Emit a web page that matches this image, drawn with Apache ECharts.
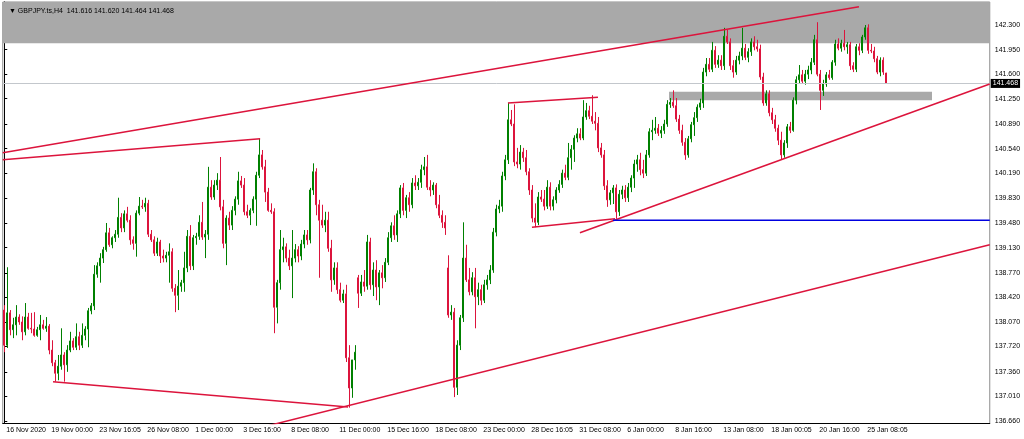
<!DOCTYPE html>
<html><head><meta charset="utf-8">
<script src="https://cdn.jsdelivr.net/npm/echarts@6/dist/echarts.min.js"></script>
<style>html,body{margin:0;padding:0;background:#fff}#c{width:1024px;height:439px}</style>
</head><body><div id="c"></div>
<script>
const chartTitle = '\u25BC GBPJPY.ts,H4  141.616 141.620 141.464 141.468';

const opens = [
138.24,137.74,138.20,137.96,138.03,138.14,138.07,137.93,138.14,137.98,
137.97,137.88,137.96,138.03,137.98,138.01,137.67,137.49,137.34,137.44,
137.60,137.46,137.67,137.80,137.71,137.86,137.74,137.88,137.97,138.23,
138.30,138.75,138.87,138.98,139.10,139.34,139.17,139.27,139.32,139.56,
139.41,139.61,139.52,139.24,139.19,139.62,139.72,139.71,139.76,139.32,
139.24,139.05,139.21,139.01,138.98,139.02,139.07,138.55,138.45,138.58,
138.63,138.84,139.29,138.87,139.27,139.29,139.49,139.28,139.32,139.99,
139.85,140.02,140.09,139.71,139.19,139.55,139.45,139.66,139.82,140.08,
140.02,139.64,139.59,139.66,139.82,140.16,140.45,140.28,139.92,139.66,
139.64,138.28,138.63,139.10,139.14,138.98,138.87,138.98,139.10,139.01,
139.18,139.31,139.24,139.95,140.21,139.74,139.52,139.45,139.52,139.12,
138.67,138.84,138.53,138.38,138.47,137.56,137.13,137.53,138.70,138.48,
138.64,138.58,139.21,138.60,138.81,138.57,138.77,138.70,138.92,139.27,
139.44,139.31,139.61,139.98,139.66,139.84,139.74,140.05,140.01,140.06,
140.24,140.28,139.99,139.95,140.02,139.74,139.59,139.49,138.84,138.17,
138.21,137.14,137.74,138.13,138.98,138.67,138.50,138.70,138.43,138.53,
138.38,138.60,138.67,138.81,139.35,139.68,139.72,140.15,140.38,140.95,
140.89,140.35,140.32,140.49,140.41,140.21,139.95,139.55,139.49,139.85,
139.82,139.72,139.99,139.72,139.81,139.95,140.03,140.19,140.13,140.41,
140.53,140.69,140.75,140.69,140.99,141.08,141.00,140.93,140.90,140.55,
140.45,140.01,139.81,139.91,139.98,139.64,139.89,139.95,139.84,139.99,
140.12,140.32,140.38,140.24,140.19,140.45,140.78,140.80,140.83,140.76,
140.80,140.89,141.17,141.20,141.15,140.96,140.80,140.63,140.45,140.68,
140.88,140.98,141.13,141.19,141.63,141.74,141.67,141.94,141.74,141.80,
141.72,142.14,142.06,141.72,141.63,141.80,141.86,141.97,141.84,141.92,
142.06,141.99,141.96,141.56,141.19,141.32,141.05,140.95,140.83,140.66,
140.45,140.62,140.85,140.80,141.23,141.52,141.59,141.50,141.60,141.66,
141.77,142.09,141.60,141.37,141.46,141.59,141.55,141.77,142.03,141.97,
142.04,141.99,142.02,141.72,141.67,141.99,141.94,142.13,142.26,141.94,
141.93,141.82,141.63,141.80,141.616];

const highs = [
138.31,138.85,138.24,138.13,138.31,138.18,138.15,138.34,138.20,138.20,
138.21,138.00,138.17,138.10,138.14,138.04,137.81,137.53,137.60,137.98,
137.64,137.74,137.93,137.84,138.05,137.93,138.05,138.01,138.27,138.34,
138.88,138.92,139.05,139.14,139.48,139.41,139.29,139.38,139.84,139.62,
139.66,139.71,139.59,139.29,139.66,139.85,139.81,139.84,139.81,139.38,
139.29,139.27,139.24,139.10,139.07,139.19,139.12,138.61,138.81,138.67,
139.07,139.38,139.45,139.31,139.34,139.59,139.78,139.38,140.28,140.09,
140.09,140.19,140.42,139.81,139.59,139.64,139.72,139.86,140.21,140.15,
140.12,139.74,139.69,139.86,140.21,140.68,140.52,140.38,139.98,139.76,
139.69,138.67,139.38,139.27,139.19,139.10,139.38,139.18,139.15,139.24,
139.38,139.38,139.98,140.33,140.26,139.81,139.74,139.64,139.64,139.24,
138.92,138.92,138.63,138.53,138.60,137.74,137.32,137.74,138.74,138.74,
138.81,139.31,139.27,138.92,138.95,138.81,138.88,138.98,139.35,139.49,
139.59,139.66,140.02,140.05,139.88,139.92,140.12,140.16,140.12,140.31,
140.42,140.45,140.09,140.06,140.05,139.88,139.66,139.59,139.02,138.31,
138.27,137.81,138.17,139.49,139.17,138.84,138.78,138.84,138.63,138.60,
138.67,138.74,138.88,139.41,139.74,139.81,140.21,140.45,141.19,141.09,
141.17,140.55,140.59,140.55,140.52,140.26,140.02,139.76,139.92,139.95,
139.95,140.09,140.06,139.86,139.99,140.09,140.24,140.31,140.62,140.59,
140.73,140.83,140.83,141.23,141.19,141.15,141.30,141.06,140.99,140.62,
140.52,140.09,139.95,140.02,140.03,139.95,140.01,140.02,140.05,140.16,
140.38,140.45,140.48,140.38,140.52,140.83,140.95,140.99,140.89,140.86,
140.95,141.23,141.26,141.37,141.26,141.02,140.88,140.69,140.72,140.92,
141.06,141.17,141.25,141.69,141.83,141.83,142.06,142.00,141.87,141.87,
142.26,142.23,142.11,141.80,141.86,141.92,142.26,142.03,141.97,142.11,
142.14,142.09,142.02,141.62,141.37,141.37,141.12,141.02,140.88,140.78,
140.66,140.89,140.92,141.27,141.57,141.73,141.66,141.66,141.72,141.83,
142.16,142.34,141.66,141.52,141.63,141.66,141.80,142.09,142.11,142.09,
142.23,142.06,142.06,141.77,142.03,142.04,142.16,142.30,142.31,142.03,
141.99,141.86,141.84,141.84,141.620];

const lows = [
137.64,137.70,137.88,137.84,137.88,138.03,137.81,137.88,137.96,137.91,
137.86,137.86,137.81,137.96,137.93,137.61,137.44,137.22,137.24,137.39,
137.22,137.36,137.64,137.67,137.67,137.67,137.70,137.81,137.71,138.18,
138.24,138.70,138.63,138.91,139.07,139.14,139.12,139.21,139.27,139.35,
139.35,139.49,139.17,139.10,139.00,139.59,139.68,139.64,139.28,139.21,
139.01,139.01,138.91,138.92,138.92,138.63,138.50,138.21,138.24,138.50,
138.50,138.78,138.81,138.81,139.17,139.24,139.24,138.98,139.24,139.81,
139.81,139.95,139.66,139.12,138.88,139.38,139.38,139.59,139.74,139.98,
139.59,139.55,139.45,139.62,139.44,140.12,140.24,139.78,139.64,139.61,
137.91,138.05,138.53,138.92,138.92,138.81,138.41,138.92,138.92,138.95,
139.12,139.17,139.19,139.88,139.59,138.70,139.41,139.35,139.07,138.50,
138.60,138.47,138.35,138.34,137.50,136.85,136.99,137.39,138.27,138.44,
138.50,138.53,138.53,138.44,138.38,138.31,138.55,138.64,138.88,139.21,
139.24,139.21,139.55,139.59,139.55,139.64,139.69,139.95,139.95,139.98,
140.16,139.95,139.86,139.88,139.69,139.55,139.41,139.31,138.13,138.10,
137.00,137.03,137.67,138.07,138.64,138.45,138.45,137.98,138.31,138.31,
138.34,138.53,138.61,138.77,139.29,139.62,139.64,140.09,140.32,140.86,
140.29,140.26,140.24,140.35,140.16,139.88,139.49,139.42,139.45,139.78,
139.66,139.68,139.66,139.66,139.76,139.91,139.98,140.09,140.09,140.24,
140.35,140.63,140.66,140.66,140.95,140.96,140.89,140.80,140.49,140.41,
139.95,139.71,139.74,139.75,139.54,139.58,139.82,139.78,139.78,139.92,
139.98,140.21,140.16,140.12,140.15,140.41,140.66,140.75,140.72,140.69,
140.75,140.85,141.12,141.12,140.92,140.75,140.58,140.38,140.41,140.63,
140.72,140.92,141.09,141.12,141.57,141.63,141.63,141.69,141.69,141.66,
141.66,142.03,141.66,141.55,141.59,141.74,141.80,141.80,141.77,141.86,
141.94,141.92,141.52,141.15,141.15,141.00,140.89,140.78,140.59,140.38,
140.41,140.55,140.76,140.78,141.17,141.47,141.46,141.45,141.53,141.60,
141.73,141.57,141.09,141.29,141.42,141.52,141.52,141.72,141.94,141.92,
141.94,141.89,141.66,141.63,141.63,141.87,141.90,142.09,141.89,141.90,
141.77,141.60,141.57,141.59,141.464];

const closes = [
137.74,138.20,137.96,138.03,138.14,138.07,137.93,138.14,137.98,137.97,
137.88,137.96,138.03,137.98,138.01,137.67,137.49,137.34,137.44,137.60,
137.46,137.67,137.80,137.71,137.86,137.74,137.88,137.97,138.23,138.30,
138.75,138.87,138.98,139.10,139.34,139.17,139.27,139.32,139.56,139.41,
139.61,139.52,139.24,139.19,139.62,139.72,139.71,139.76,139.32,139.24,
139.05,139.21,139.01,138.98,139.02,139.07,138.55,138.45,138.58,138.63,
138.84,139.29,138.87,139.27,139.29,139.49,139.28,139.32,139.99,139.85,
140.02,140.09,139.71,139.19,139.55,139.45,139.66,139.82,140.08,140.02,
139.64,139.59,139.66,139.82,140.16,140.45,140.28,139.92,139.66,139.64,
138.28,138.63,139.10,139.14,138.98,138.87,138.98,139.10,139.01,139.18,
139.31,139.24,139.95,140.21,139.74,139.52,139.45,139.52,139.12,138.67,
138.84,138.53,138.38,138.47,137.56,137.13,137.53,137.64,138.48,138.64,
138.58,139.21,138.60,138.81,138.57,138.77,138.70,138.92,139.27,139.44,
139.31,139.61,139.98,139.66,139.84,139.74,140.05,140.01,140.06,140.24,
140.28,139.99,139.95,140.02,139.74,139.59,139.49,139.41,138.17,138.21,
137.14,137.74,138.13,138.98,138.67,138.50,138.70,138.43,138.53,138.38,
138.60,138.67,138.81,139.35,139.68,139.72,140.15,140.38,140.95,140.89,
140.35,140.32,140.49,140.41,140.21,139.95,139.55,139.49,139.85,139.82,
139.72,139.99,139.72,139.81,139.95,140.03,140.19,140.13,140.41,140.53,
140.69,140.75,140.69,140.99,141.08,141.00,140.93,140.90,140.55,140.45,
140.01,139.81,139.91,139.98,139.64,139.89,139.95,139.84,139.99,140.12,
140.32,140.38,140.24,140.19,140.45,140.78,140.80,140.83,140.76,140.80,
140.89,141.17,141.20,141.15,140.96,140.80,140.63,140.45,140.68,140.88,
140.98,141.13,141.19,141.63,141.74,141.67,141.94,141.74,141.80,141.72,
142.14,142.06,141.72,141.63,141.80,141.86,141.97,141.84,141.92,142.06,
141.99,141.96,141.56,141.19,141.32,141.05,140.95,140.83,140.66,140.45,
140.62,140.85,140.80,141.23,141.52,141.59,141.50,141.60,141.66,141.77,
142.09,141.60,141.37,141.46,141.59,141.55,141.77,142.03,141.97,142.04,
141.99,142.02,141.72,141.67,141.99,141.94,142.13,142.26,141.94,141.93,
141.82,141.63,141.80,141.63,141.468];

const emptyBarsRight = 34;

const timeLabels = ['16 Nov 2020','19 Nov 00:00','23 Nov 16:05','26 Nov 08:00','1 Dec 00:00','3 Dec 16:00',
  '8 Dec 08:00','11 Dec 00:00','15 Dec 16:00','18 Dec 08:00','23 Dec 00:00','28 Dec 16:05','31 Dec 08:00',
  '6 Jan 00:00','8 Jan 16:00','13 Jan 08:00','18 Jan 00:05','20 Jan 16:00','25 Jan 08:05'];
const timeLabelBars = [0,15,31,47,63,79,95,111,127,143,159,175,191,207,223,239,255,271,287];

const priceTicks = [142.300,141.950,141.600,141.250,140.890,140.540,140.190,139.830,139.480,
  139.130,138.770,138.420,138.070,137.720,137.360,137.010,136.660];
const priceMin = 136.624, priceMax = 142.628;
const lastPrice = 141.468;

// drawn objects: [bar index, price]
const upperChannel   = [[-0.5,140.48],[284.9,142.56]];
const leftWedgeLow   = [[-0.5,140.38],[85.3,140.68]];
const leftBaseLine   = [[16.25,137.22],[114.6,136.86]];
const lowerChannel   = [[85.9,136.57],[328.5,139.17]];
const pennantTop     = [[167.9,141.19],[197.9,141.27]];
const pennantBottom  = [[175.9,139.42],[203.6,139.54]];
const risingTrend    = [[191.9,139.34],[328.5,141.46]];
const blueLevel      = [[202.9,139.52],[328.5,139.52]];
const resistanceZone = [[-0.5,142.04],[328.5,142.628]];
const supportBox     = [[221.6,141.35],[309.25,141.23]];

const nBars = opens.length;
const nCats = nBars + emptyBarsRight;
const cats = [];
for (let i = 0; i < nCats; i++) cats.push(String(i));
const candleData = opens.map((o, i) => [o, closes[i], lows[i], highs[i]]);
const labelMap = {};
timeLabelBars.forEach((b, k) => { labelMap[b] = timeLabels[k]; });
const isLabel = (idx) => labelMap[idx] !== undefined;

const FONT = 'Liberation Sans';
const RED = '#dc143c', GREEN = '#008000';

function trend(data, color, width) {
  return { type: 'line', xAxisIndex: 1, yAxisIndex: 0, data: data, symbol: 'none', silent: true,
    lineStyle: { color: color, width: width }, z: 5, animation: false, clip: true };
}

const chart = echarts.init(document.getElementById('c'), null, { renderer: 'canvas' });
chart.setOption({
  animation: false,
  backgroundColor: '#ffffff',
  title: { text: chartTitle, left: 4, top: 3,
    textStyle: { fontSize: 7, fontWeight: 'normal', color: '#000', fontFamily: FONT } },
  grid: { left: 2.75, top: 2, width: nCats * 3, height: 421.5, show: true,
    borderColor: '#8c8c8c', borderWidth: 1, backgroundColor: 'transparent' },
  xAxis: [
    { type: 'category', data: cats, boundaryGap: true, position: 'bottom',
      axisLine: { lineStyle: { color: '#000', width: 1 } },
      axisTick: { alignWithLabel: true, interval: (i) => isLabel(i), length: 3, lineStyle: { color: '#000' } },
      axisLabel: { interval: (i) => isLabel(i), formatter: (v, i) => labelMap[i] || '', align: 'left',
        margin: 3, fontSize: 7, color: '#000', fontFamily: FONT, padding: [0, 0, 0, 2] },
      splitLine: { show: false } },
    { type: 'value', min: -0.5, max: nCats - 0.5, show: false }
  ],
  yAxis: { type: 'value', position: 'right', min: priceMin, max: priceMax, scale: true,
    axisLine: { show: true, lineStyle: { color: '#000', width: 1 } },
    axisTick: { show: true, customValues: priceTicks, length: 3, lineStyle: { color: '#000' } },
    axisLabel: { customValues: priceTicks, formatter: (v) => v.toFixed(3), margin: 5, fontSize: 7,
      color: '#000', fontFamily: FONT },
    splitLine: { show: false } },
  series: [
    { type: 'line', xAxisIndex: 1, yAxisIndex: 0, data: [resistanceZone[0]], symbol: 'none',
      lineStyle: { opacity: 0 }, silent: true, z: 1,
      markArea: { silent: true, itemStyle: { color: '#a9a9a9', opacity: 1 },
        data: [
          [{ coord: resistanceZone[0] }, { coord: resistanceZone[1] }],
          [{ coord: supportBox[0] }, { coord: supportBox[1] }]
        ] } },
    { type: 'candlestick', xAxisIndex: 0, yAxisIndex: 0, data: candleData, barWidth: 1.6, z: 3,
      itemStyle: { color: GREEN, color0: RED, borderColor: GREEN, borderColor0: RED, borderWidth: 1 },
      markLine: { silent: true, symbol: 'none', animation: false, precision: 3,
        lineStyle: { color: '#c3c7cc', type: 'solid', width: 1 },
        label: { show: true, position: 'end', distance: 1, formatter: () => lastPrice.toFixed(3),
          backgroundColor: '#000', color: '#fff', fontSize: 7, fontFamily: FONT, padding: [1, 2, 1, 2] },
        data: [{ yAxis: lastPrice }] } },
    trend(upperChannel, RED, 1.5),
    trend(leftWedgeLow, RED, 1.5),
    trend(leftBaseLine, RED, 1.5),
    trend(lowerChannel, RED, 1.5),
    trend(pennantTop, RED, 1.5),
    trend(pennantBottom, RED, 1.5),
    trend(risingTrend, RED, 1.5),
    trend(blueLevel, '#0000e0', 1.5)
  ]
});
</script>
</body></html>
